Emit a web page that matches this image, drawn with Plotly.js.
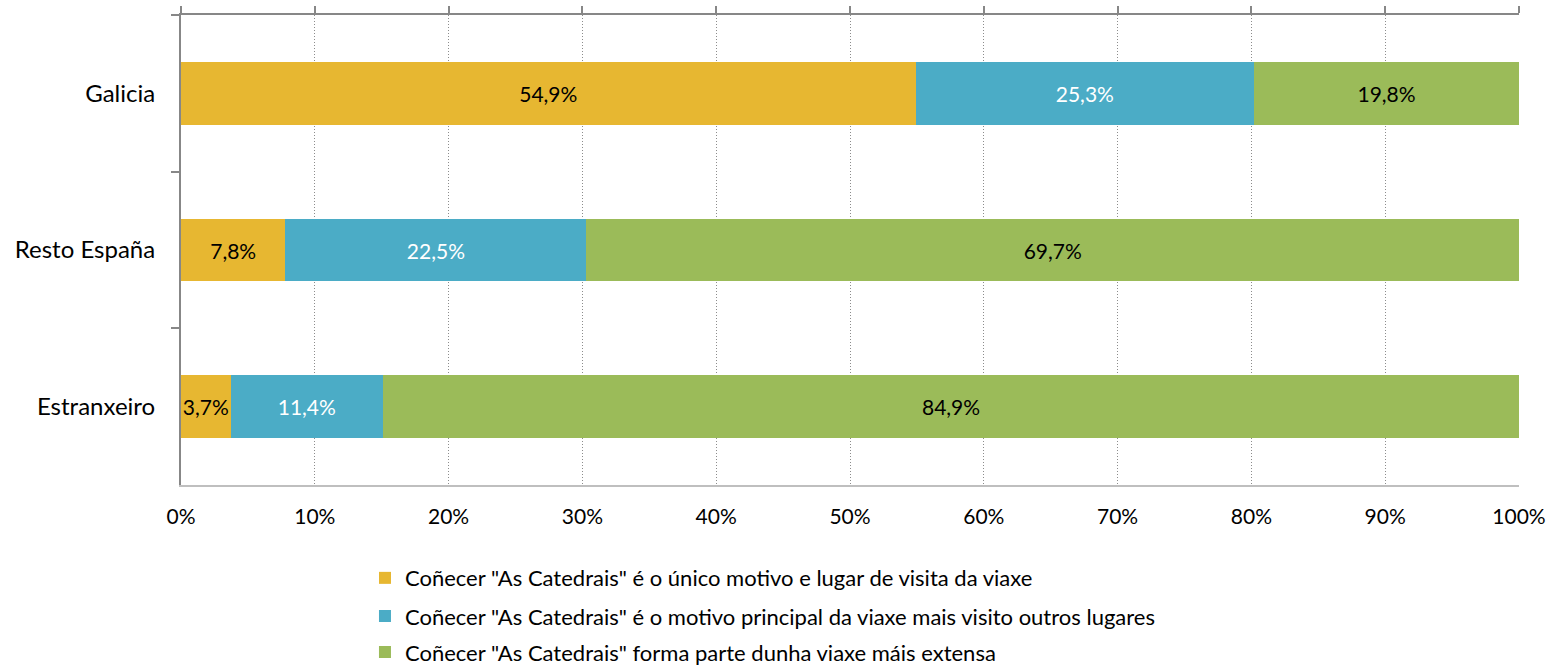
<!DOCTYPE html>
<html>
<head>
<meta charset="utf-8">
<script src="https://cdn.plot.ly/plotly-3.0.1.min.js"></script>
<style>html,body{margin:0;padding:0;background:#fff;}#chart{width:1557px;height:666px;}</style>
</head>
<body>
<div id="chart"></div>
<script>
const categories = ["Galicia", "Resto España", "Estranxeiro"];
const seriesNames = [
  'Coñecer "As Catedrais" é o único motivo e lugar de visita da viaxe',
  'Coñecer "As Catedrais" é o motivo principal da viaxe mais visito outros lugares',
  'Coñecer "As Catedrais" forma parte dunha viaxe máis extensa'
];
const unicoMotivo = [54.9, 7.8, 3.7];
const motivoPrincipal = [25.3, 22.5, 11.4];
const parteViaxe = [19.8, 69.7, 84.9];
const tickVals = [0,10,20,30,40,50,60,70,80,90,100];
const tickLabels = ["0%","10%","20%","30%","40%","50%","60%","70%","80%","90%","100%"];

const colors = ["#E7B731", "#4BACC6", "#9BBB59"];
const textColors = ["#000000", "#FFFFFF", "#000000"];
const FONT = "Lato, 'Open Sans', sans-serif";

const fmt = v => v.toFixed(1).replace(".", ",") + "%";
const allSeries = [unicoMotivo, motivoPrincipal, parteViaxe];
const legendIds = ["legend", "legend2", "legend3"];

const traces = allSeries.map((vals, i) => ({
  type: "bar",
  orientation: "h",
  name: seriesNames[i],
  legend: legendIds[i],
  y: categories,
  x: vals,
  text: vals.map(fmt),
  textposition: "inside",
  insidetextanchor: "middle",
  textangle: 0,
  textfont: {family: FONT, size: 21, color: textColors[i]},
  constraintext: "none",
  marker: {color: colors[i], line: {width: 0}},
  hoverinfo: "skip"
}));
traces.push({
  type: "scatter", x: [0, 100], y: [categories[0], categories[0]],
  xaxis: "x2", yaxis: "y", mode: "markers", marker: {opacity: 0},
  showlegend: false, hoverinfo: "skip"
});

const legendBase = y => ({
  orientation: "v",
  x: 0.1375, xanchor: "left", y: y, yanchor: "middle",
  font: {family: FONT, size: 22, color: "#000"},
  itemwidth: 30, bgcolor: "rgba(0,0,0,0)"
});

const layout = {
  width: 1557, height: 666,
  margin: {l: 181, r: 38, t: 15, b: 181, autoexpand: false},
  barmode: "stack",
  bargap: 0.6,
  paper_bgcolor: "#fff", plot_bgcolor: "#fff",
  font: {family: FONT, size: 21, color: "#000"},
  xaxis: {
    range: [0, 100], tickvals: tickVals, ticktext: tickLabels,
    showgrid: true, gridcolor: "#8C8C8C", griddash: "1px,2px", gridwidth: 1,
    showline: true, linecolor: "#BFBFBF", linewidth: 2,
    ticks: "", zeroline: false,
    tickfont: {family: FONT, size: 21, color: "#000"},
    ticklabelstandoff: 12,
    fixedrange: true
  },
  xaxis2: {
    overlaying: "x", side: "top", range: [0, 100], tickvals: tickVals,
    showticklabels: false, showgrid: false, zeroline: false,
    showline: true, linecolor: "#878787", linewidth: 2,
    ticks: "outside", ticklen: 7, tickcolor: "#878787", tickwidth: 2,
    fixedrange: true
  },
  yaxis: {
    categoryorder: "array", categoryarray: categories,
    autorange: "reversed",
    showline: true, linecolor: "#878787", linewidth: 2,
    ticks: "outside", tickson: "boundaries", ticklen: 8, tickcolor: "#878787", tickwidth: 2,
    showgrid: false, zeroline: false,
    tickfont: {family: FONT, size: 24, color: "#000"},
    ticklabelstandoff: 19,
    fixedrange: true
  },
  legend: legendBase(-0.198),
  legend2: legendBase(-0.279),
  legend3: legendBase(-0.356),
  showlegend: true
};

Plotly.newPlot("chart", traces, layout, {displayModeBar: false, staticPlot: true});
</script>
</body>
</html>
